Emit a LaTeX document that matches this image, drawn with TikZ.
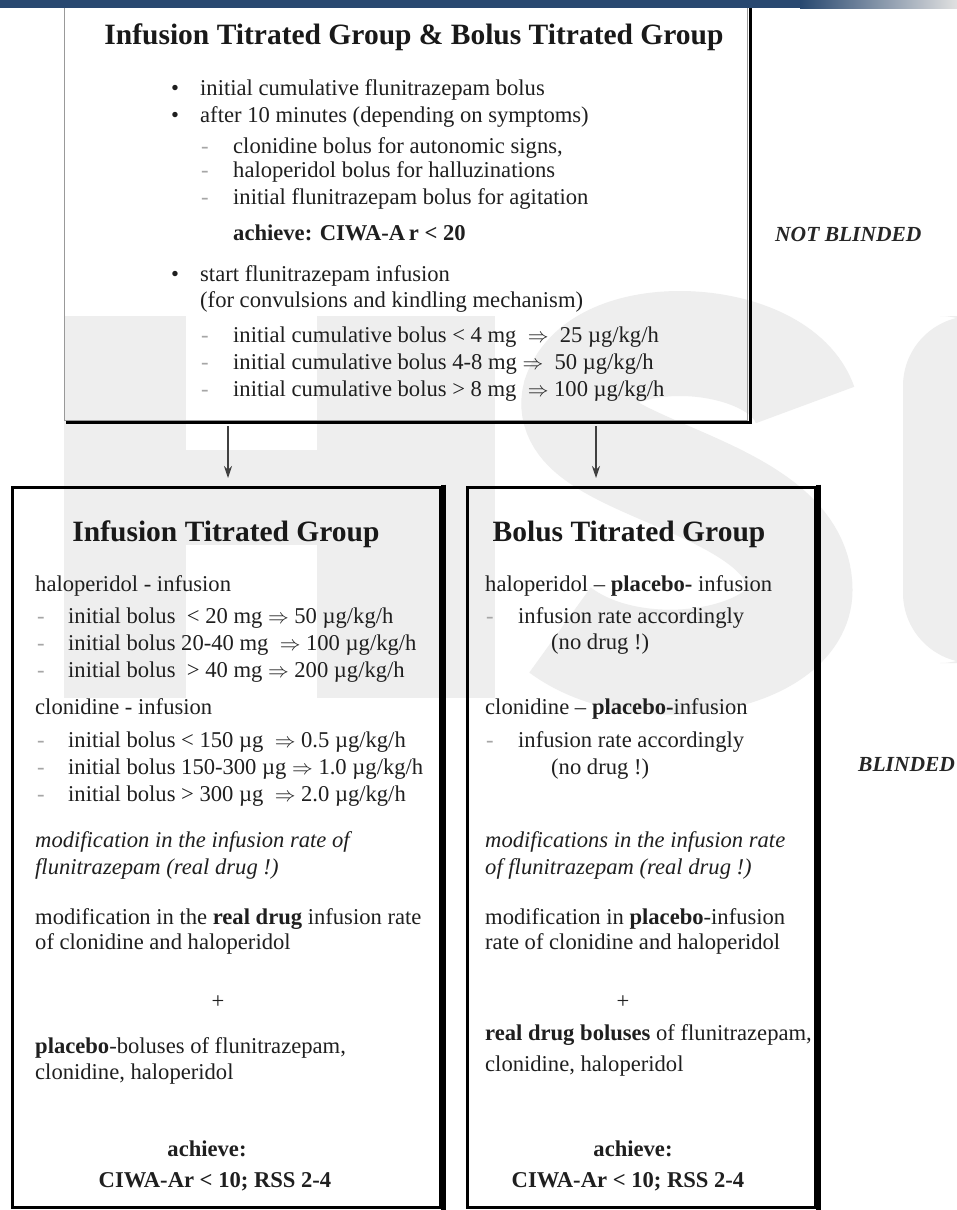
\documentclass[tikz,border=0pt]{standalone}
\usepackage{fontspec}
\setmainfont{Liberation Serif}
\usetikzlibrary{arrows.meta}
\definecolor{band}{RGB}{40,72,112}
\definecolor{wmgray}{RGB}{238,238,238}
\begin{document}
\begin{tikzpicture}[x=1pt,y=-1pt,
  body/.style={anchor=base west, inner sep=0pt, font=\fontsize{22.6}{27}\selectfont, text=black!88},
  bodyc/.style={body, anchor=base},
  bodyi/.style={body, font=\fontsize{22.6}{27}\selectfont\itshape},
  bodyb/.style={body, font=\fontsize{22.6}{27}\selectfont\bfseries},
  bodybc/.style={bodyb, anchor=base},
  dashm/.style={body, text=black!35},
  hdr/.style={anchor=base, inner sep=0pt, font=\fontsize{29.5}{34}\selectfont\bfseries, text=black!90},
  side/.style={anchor=base west, inner sep=0pt, font=\fontsize{21.5}{25}\selectfont\bfseries\itshape, text=black!85},
  arr/.style={-{Stealth[length=12pt,width=8pt]}, line width=1.1pt, black!75},
  grp/.style={draw=black, line width=3pt, minimum width=#1, minimum height=720, inner sep=0pt, anchor=north west},
  frame/.style={draw=black!40, line width=1pt, inner sep=0pt, anchor=north west, minimum width=683, minimum height=430},
  edge/.style={black, line width=5pt},
  wm/.style={fill=wmgray, draw=none},
  wmline/.style={draw=wmgray, line width=105pt}
]
\useasboundingbox (0,0) rectangle (957,1210);
\fill[white] (0,0) rectangle (957,1210);
% watermark
\begin{scope}
\clip (0,0) rectangle (957,1210);
\fill[wm] (64,316) rectangle (186,698);
\fill[wm] (186,450) rectangle (317,545);
\fill[wm] (317,316) rectangle (495,698);
\draw[wmline] (805,405) .. controls (780,330) and (600,320) .. (575,395) .. controls (555,470) and (800,480) .. (800,590) .. controls (800,660) and (640,690) .. (560,630);
\fill[wm, rounded corners=70] (903,316) -- (903,663) -- (1010,663) -- (1010,316) -- cycle;
\end{scope}

% top box
\node[frame] (topbox) at (64,-10) {};
\draw[black, line width=3pt] ([xshift=2pt]topbox.north east) -- ([xshift=2pt,yshift=-1.5pt]topbox.south east) -- ([yshift=-1.5pt,xshift=2pt]topbox.south west);
% top band
\fill[band] (0,0) rectangle (800,8);
\shade[left color=band, right color=black!12] (800,0) rectangle (957,8);

\node[hdr] (tt) at (414,44) {Infusion Titrated Group \& Bolus Titrated Group};
\node[body] (b1) at (171,95) {•};
\node[body] (t1) at (200,95) {initial cumulative flunitrazepam bolus};
\node[body] (b2) at (171,122) {•};
\node[body] (t2) at (200,122) {after 10 minutes (depending on symptoms)};
\node[dashm] (d1) at (201,153) {-};
\node[body] (t3) at (233,153) {clonidine bolus for autonomic signs,};
\node[dashm] (d2) at (201,177) {-};
\node[body] (t4) at (233,177) {haloperidol bolus for halluzinations};
\node[dashm] (d3) at (201,204) {-};
\node[body] (t5) at (233,204) {initial flunitrazepam bolus for agitation};
\node[bodyb] (t6) at (233,240) {achieve: CIWA-A\,r < 20};
\node[body] (b3) at (171,281) {•};
\node[body] (t7) at (200,281) {start flunitrazepam infusion};
\node[body] (t8) at (200,307) {(for convulsions and kindling mechanism)};
\node[dashm] (d4) at (201,342) {-};
\node[body] (t9) at (233,342) {initial cumulative bolus < 4 mg \ $\Rightarrow$ \ 25 µg/kg/h};
\node[dashm] (d5) at (201,369) {-};
\node[body] (t10) at (233,369) {initial cumulative bolus 4-8 mg $\Rightarrow$ \ 50 µg/kg/h};
\node[dashm] (d6) at (201,396) {-};
\node[body] (t11) at (233,396) {initial cumulative bolus > 8 mg \ $\Rightarrow$ 100 µg/kg/h};

\node[side] (nb) at (775,241) {NOT BLINDED};
\node[side] (bl) at (858,771) {BLINDED};

% bottom boxes
\node[grp=428] (lbox) at (11,486) {};
\node[grp=348] (rbox) at (466,486) {};
\draw[edge] ([xshift=1pt,yshift=1.5pt]lbox.north east) -- ([xshift=1pt,yshift=-1.5pt]lbox.south east);
\draw[edge] ([xshift=1pt,yshift=1.5pt]rbox.north east) -- ([xshift=1pt,yshift=-1.5pt]rbox.south east);

% arrows
\coordinate (a1) at (228,426);
\coordinate (a2) at (596,426);
\draw[arr, shorten >=8pt] (a1) -- (a1 |- lbox.north);
\draw[arr, shorten >=8pt] (a2) -- (a2 |- rbox.north);

% left box text
\node[hdr] (lh) at (226,541) {Infusion Titrated Group};
\node[body] (l1) at (35,591) {haloperidol - infusion};
\node[dashm] (ld1) at (37,623) {-};
\node[body] (l2) at (68,623) {initial bolus \ < 20 mg $\Rightarrow$ 50 µg/kg/h};
\node[dashm] (ld2) at (37,650) {-};
\node[body] (l3) at (68,650) {initial bolus 20-40 mg \ $\Rightarrow$ 100 µg/kg/h};
\node[dashm] (ld3) at (37,677) {-};
\node[body] (l4) at (68,677) {initial bolus \ > 40 mg $\Rightarrow$ 200 µg/kg/h};
\node[body] (l5) at (35,714) {clonidine - infusion};
\node[dashm] (ld4) at (37,747) {-};
\node[body] (l6) at (68,747) {initial bolus < 150 µg \ $\Rightarrow$ 0.5 µg/kg/h};
\node[dashm] (ld5) at (37,774) {-};
\node[body] (l7) at (68,774) {initial bolus 150-300 µg $\Rightarrow$ 1.0 µg/kg/h};
\node[dashm] (ld6) at (37,801) {-};
\node[body] (l8) at (68,801) {initial bolus > 300 µg \ $\Rightarrow$ 2.0 µg/kg/h};
\node[bodyi] (l9) at (35,847) {modification in the infusion rate of};
\node[bodyi] (l10) at (35,874) {flunitrazepam (real drug !)};
\node[body] (l11) at (35,924) {modification in the \textbf{real drug} infusion rate};
\node[body] (l12) at (35,949) {of clonidine and haloperidol};
\node[bodyc] (lp) at (218,1008) {+};
\node[body] (l13) at (35,1053) {\textbf{placebo}-boluses of flunitrazepam,};
\node[body] (l14) at (35,1079) {clonidine, haloperidol};
\node[bodybc] (la) at (207,1156) {achieve:};
\node[bodybc] (lc) at (215,1187) {CIWA-Ar < 10; RSS 2-4};

% right box text
\node[hdr] (rh) at (629,541) {Bolus Titrated Group};
\node[body] (r1) at (485,591) {haloperidol -- \textbf{placebo-} infusion};
\node[dashm] (rd1) at (486,623) {-};
\node[body] (r2) at (518,623) {infusion rate accordingly};
\node[body] (r3) at (551,649) {(no drug !)};
\node[body] (r4) at (485,714) {clonidine -- \textbf{placebo-}infusion};
\node[dashm] (rd2) at (486,747) {-};
\node[body] (r5) at (518,747) {infusion rate accordingly};
\node[body] (r6) at (551,774) {(no drug !)};
\node[bodyi] (r7) at (485,847) {modifications in the infusion rate};
\node[bodyi] (r8) at (485,874) {of flunitrazepam (real drug !)};
\node[body] (r9) at (485,924) {modification in \textbf{placebo}-infusion};
\node[body] (r10) at (485,949) {rate of clonidine and haloperidol};
\node[bodyc] (rp) at (623,1008) {+};
\node[body] (r11) at (485,1040) {\textbf{real drug boluses} of flunitrazepam,};
\node[body] (r12) at (485,1071) {clonidine, haloperidol};
\node[bodybc] (ra) at (633,1156) {achieve:};
\node[bodybc] (rc) at (628,1187) {CIWA-Ar < 10; RSS 2-4};
\end{tikzpicture}
\end{document}
